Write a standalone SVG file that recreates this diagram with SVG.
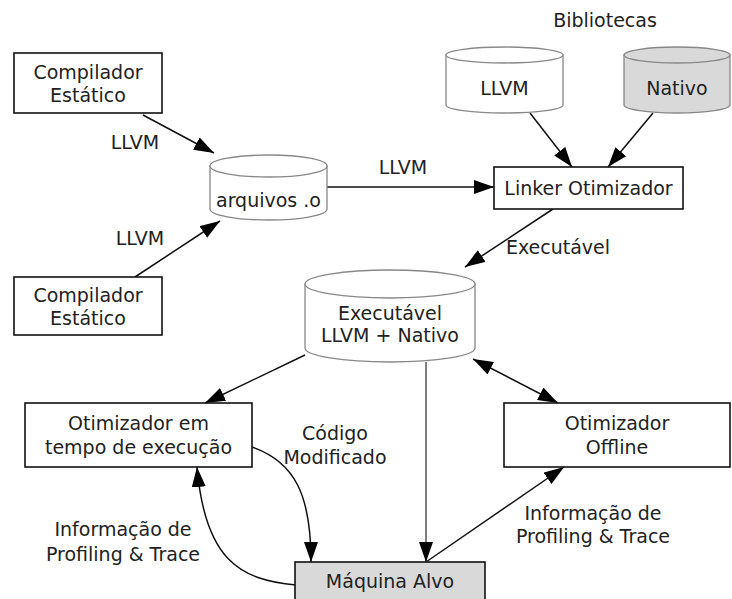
<svg xmlns="http://www.w3.org/2000/svg" width="732" height="599" viewBox="0 0 732 599">
<style>
text{font-family:"DejaVu Sans","Verdana",sans-serif;font-size:19px;fill:#222;text-anchor:middle}
.box{fill:#fff;stroke:#111;stroke-width:1.6}
.gbox{fill:#d9d9d9;stroke:#111;stroke-width:1.6}
.cyl{fill:#fff;stroke:#888;stroke-width:1.3}
.gcyl{fill:#d9d9d9;stroke:#888;stroke-width:1.3}
.edge{fill:none;stroke:#111;stroke-width:1.5}
.gedge{fill:none;stroke:#555;stroke-width:1.5}
</style>
<defs>
<marker id="ah" markerUnits="userSpaceOnUse" markerWidth="20" markerHeight="14" refX="20" refY="7" orient="auto-start-reverse">
<path d="M0,0 L20,7 L0,14 z" fill="#000"/>
</marker>
</defs>
<g id="connectors">
<line class="edge" x1="143" y1="115" x2="214" y2="153" marker-end="url(#ah)"/>
<line class="edge" x1="135" y1="277" x2="220" y2="221" marker-end="url(#ah)"/>
<line class="edge" x1="327" y1="187" x2="494" y2="187" marker-end="url(#ah)"/>
<line class="edge" x1="530" y1="113" x2="572" y2="167" marker-end="url(#ah)"/>
<line class="edge" x1="653" y1="113" x2="608" y2="167" marker-end="url(#ah)"/>
<line class="edge" x1="553" y1="209" x2="465" y2="267" marker-end="url(#ah)"/>
<line class="edge" x1="305" y1="355" x2="205" y2="403" marker-end="url(#ah)"/>
<line class="gedge" x1="426" y1="362" x2="426" y2="562" marker-end="url(#ah)"/>
<line class="edge" x1="473" y1="359" x2="558" y2="403" marker-start="url(#ah)" marker-end="url(#ah)"/>
<line class="edge" x1="426" y1="562" x2="564" y2="467" marker-end="url(#ah)"/>
<path class="edge" d="M252,447 C295,462 311,495 311,562" marker-end="url(#ah)"/>
<path class="edge" d="M296,585 C240,580 205,560 197,467" marker-end="url(#ah)"/>
<text x="135" y="149">LLVM</text>
<text x="140" y="245">LLVM</text>
<text x="403" y="174">LLVM</text>
<text x="558" y="254">Executável</text>
<text x="335" y="440">Código</text>
<text x="335" y="464">Modificado</text>
<text x="123" y="536">Informação de</text>
<text x="123" y="561">Profiling &amp; Trace</text>
<text x="593" y="520">Informação de</text>
<text x="593" y="543">Profiling &amp; Trace</text>
</g>
<g id="compilador1">
<rect class="box" x="14" y="53" width="148" height="60"/>
<text x="88" y="79">Compilador</text>
<text x="88" y="102">Estático</text>
</g>
<g id="compilador2">
<rect class="box" x="14" y="277" width="148" height="58"/>
<text x="88" y="302">Compilador</text>
<text x="88" y="325">Estático</text>
</g>
<g id="arquivos">
<path class="cyl" d="M210,166 L210,209 A58.5,11 0 0 0 327,209 L327,166 Z"/>
<ellipse class="cyl" cx="268.5" cy="166" rx="58.5" ry="11"/>
<text x="268.5" y="207">arquivos .o</text>
</g>
<g id="bibliotecas">
<text x="605" y="27">Bibliotecas</text>
</g>
<g id="lib-llvm">
<path class="cyl" d="M446,55 L446,105 A58.5,8 0 0 0 563,105 L563,55 Z"/>
<ellipse class="cyl" cx="504.5" cy="55" rx="58.5" ry="8"/>
<text x="504.5" y="95">LLVM</text>
</g>
<g id="lib-nativo">
<path class="gcyl" d="M624,55 L624,105 A53,8 0 0 0 730,105 L730,55 Z"/>
<ellipse class="gcyl" cx="677" cy="55" rx="53" ry="8"/>
<text x="677" y="95">Nativo</text>
</g>
<g id="linker">
<rect class="box" x="494" y="167" width="189" height="42"/>
<text x="588.5" y="195">Linker Otimizador</text>
</g>
<g id="executavel">
<path class="cyl" d="M305,284 L305,348 A85,14 0 0 0 475,348 L475,284 Z"/>
<ellipse class="cyl" cx="390" cy="284" rx="85" ry="14"/>
<text x="390" y="320">Executável</text>
<text x="390" y="342">LLVM + Nativo</text>
</g>
<g id="otimizador-runtime">
<rect class="box" x="25" y="403" width="227" height="64"/>
<text x="138.5" y="430">Otimizador em</text>
<text x="138.5" y="454">tempo de execução</text>
</g>
<g id="otimizador-offline">
<rect class="box" x="504" y="403" width="226" height="64"/>
<text x="617" y="430">Otimizador</text>
<text x="617" y="454">Offline</text>
</g>
<g id="maquina">
<rect class="gbox" x="295" y="562" width="190" height="40"/>
<text x="390" y="588">Máquina Alvo</text>
</g>
</svg>
